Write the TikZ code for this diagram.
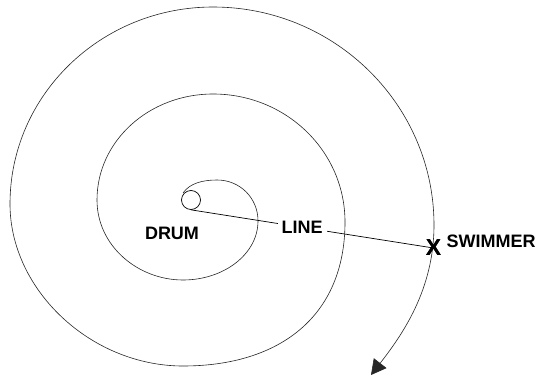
\documentclass[tikz,border=0pt]{standalone}
\usepackage{fontspec}
\setmainfont{Liberation Sans}
\usetikzlibrary{arrows.meta}
\tikzset{
  lbl/.style={font=\bfseries\fontsize{18}{20}\selectfont, inner sep=0pt},
  xlbl/.style={font=\bfseries\fontsize{23}{25}\selectfont, inner sep=0pt},
  spiral/.style={line width=0.6pt, black!85},
  rope/.style={line width=0.7pt, black}
}
\begin{document}
\begin{tikzpicture}[x=1pt,y=-1pt]
\useasboundingbox (0,0) rectangle (538,377);
% spiral
\coordinate (s0) at (183,193);
\coordinate (tip) at (371,375);
\draw[spiral, -{Triangle[length=15pt,width=16pt]}]
 (s0) .. controls (190,183) and (203,180) .. (217,180)
 .. controls (240,180) and (258,198) .. (258,221)
 .. controls (258,254) and (224,280) .. (183,280)
 .. controls (138,280) and (97,246) .. (97,200)
 .. controls (97,141) and (149,94) .. (213,94)
 .. controls (286,94) and (345,151) .. (345,222)
 .. controls (345,316) and (280,366) .. (183,366)
 .. controls (91,366) and (10,290) .. (10,204)
 .. controls (10,95) and (101,7) .. (213,7)
 .. controls (335,7) and (434,105) .. (434,225)
 .. controls (434,290) and (402,335) .. (tip);
% drum
\node[draw, circle, minimum size=19pt, inner sep=0pt, line width=0.7pt, fill=white] (drum) at (191,200) {};
\node[xlbl] (x) at (433.5,248) {X};
\draw[rope] (drum.south) -- (x.center) node[pos=0.458, fill=white, inner xsep=4pt, inner ysep=2pt] (line) {\bfseries\fontsize{18}{20}\selectfont LINE};
\node[xlbl] at (433.5,248) {X};
\node[lbl] (drumlbl) at (172,233.5) {DRUM};
\node[lbl] (swimmer) at (491,241.5) {SWIMMER};
\end{tikzpicture}
\end{document}
